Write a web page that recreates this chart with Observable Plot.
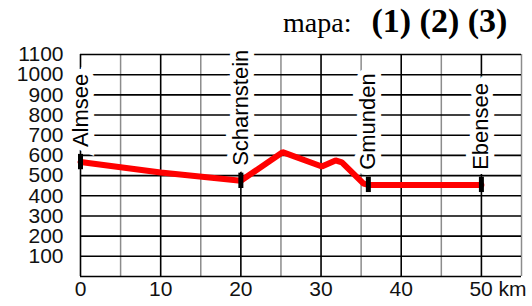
<!DOCTYPE html>
<html>
<head>
<meta charset="utf-8">
<script src="https://cdn.jsdelivr.net/npm/d3@7"></script>
<script src="https://cdn.jsdelivr.net/npm/@observablehq/plot@0.6"></script>
<style>
  html, body { margin: 0; padding: 0; background: #fff; }
  #wrap { position: relative; width: 532px; height: 306px; overflow: hidden; }
  #title { position: absolute; left: 283px; top: 1px; height: 44px; line-height: 40px;
           font-family: "Liberation Serif", "Times New Roman", serif; font-size: 28px; color: #000; white-space: nowrap; }
  #title b { font-weight: bold; font-size: 34px; line-height: 40px; }
  #chart { position: absolute; left: 0; top: 44px; }
</style>
</head>
<body>
<div id="wrap">
  <div id="title">mapa:<span style="display:inline-block;width:20px"></span><b>(1) (2) (3)</b></div>
  <div id="chart"></div>
</div>
<script>
// profile (distance in km, elevation in m)
const km = [0, 10, 20, 25.2, 30.1, 31.8, 32.6, 35.3, 35.9, 50];
const elevation = [567, 515, 474, 616, 545, 575, 565, 460, 454, 454];

// places along the route
const places = ["Almsee", "Scharnstein", "Gmunden", "Ebensee"];
const placeKm = [0, 20, 35.9, 50];
const placeElevation = [567, 474, 454, 454];

// axes
const yTicks = [100, 200, 300, 400, 500, 600, 700, 800, 900, 1000, 1100];
const yTickLabels = ["100", "200", "300", "400", "500", "600", "700", "800", "900", "1000", "1100"];
const xTicks = [0, 10, 20, 30, 40, 50];
const xTickLabels = ["0", "10", "20", "30", "40", "50 km"];
const hGrid = [0, 100, 200, 300, 400, 500, 600, 700, 800, 900, 1000, 1100];
const vGridMajor = [0, 10, 20, 30, 40, 50];
const vGridMinor = [5, 15, 25, 35, 45, 55];

const profile = km.map((k, i) => ({km: k, elev: elevation[i]}));
const stops = places.map((p, i) => ({name: p, km: placeKm[i], elev: placeElevation[i]}));
const xt = xTicks.map((k, i) => ({km: k, label: xTickLabels[i]}));
const yt = yTicks.map((v, i) => ({v, label: yTickLabels[i]}));

const chart = Plot.plot({
  width: 532,
  height: 262,
  marginTop: 10,
  marginBottom: 30,
  marginLeft: 80,
  marginRight: 11,
  x: {domain: [0, 55], axis: null},
  y: {domain: [0, 1100], axis: null},
  style: {
    fontFamily: "'Liberation Sans', Arial, sans-serif",
    fontSize: "21px",
    background: "white",
    overflow: "visible",
    color: "black"
  },
  marks: [
    Plot.ruleX(vGridMinor, {stroke: "#8c8c8c", strokeWidth: 1.5}),
    Plot.ruleX(vGridMajor, {stroke: "#000", strokeWidth: 1.6}),
    Plot.ruleY(hGrid, {stroke: "#000", strokeWidth: 1.6}),
    Plot.text(stops, {
      x: "km", y: "elev", text: "name", rotate: -90, textAnchor: "start",
      dy: -15, fontSize: 22, fill: "black",
      stroke: "white", strokeWidth: 12, strokeLinejoin: "miter", paintOrder: "stroke"
    }),
    Plot.line(profile, {x: "km", y: "elev", stroke: "#ff0000", strokeWidth: 6, strokeLinejoin: "miter"}),
    Plot.ruleX(stops, {x: "km", y1: d => d.elev - 38, y2: d => d.elev + 38, stroke: "#000", strokeWidth: 5}),
    Plot.text(xt.slice(0, -1), {x: "km", text: "label", frameAnchor: "bottom", dy: 19, fill: "#111"}),
    Plot.text(xt.slice(-1), {x: "km", text: "label", frameAnchor: "bottom", dy: 19, dx: -12, textAnchor: "start", fill: "#111"}),
    Plot.text(yt, {y: "v", text: "label", frameAnchor: "left", dx: -17, textAnchor: "end", fill: "#111"})
  ]
});
document.getElementById("chart").appendChild(chart);
</script>
</body>
</html>
